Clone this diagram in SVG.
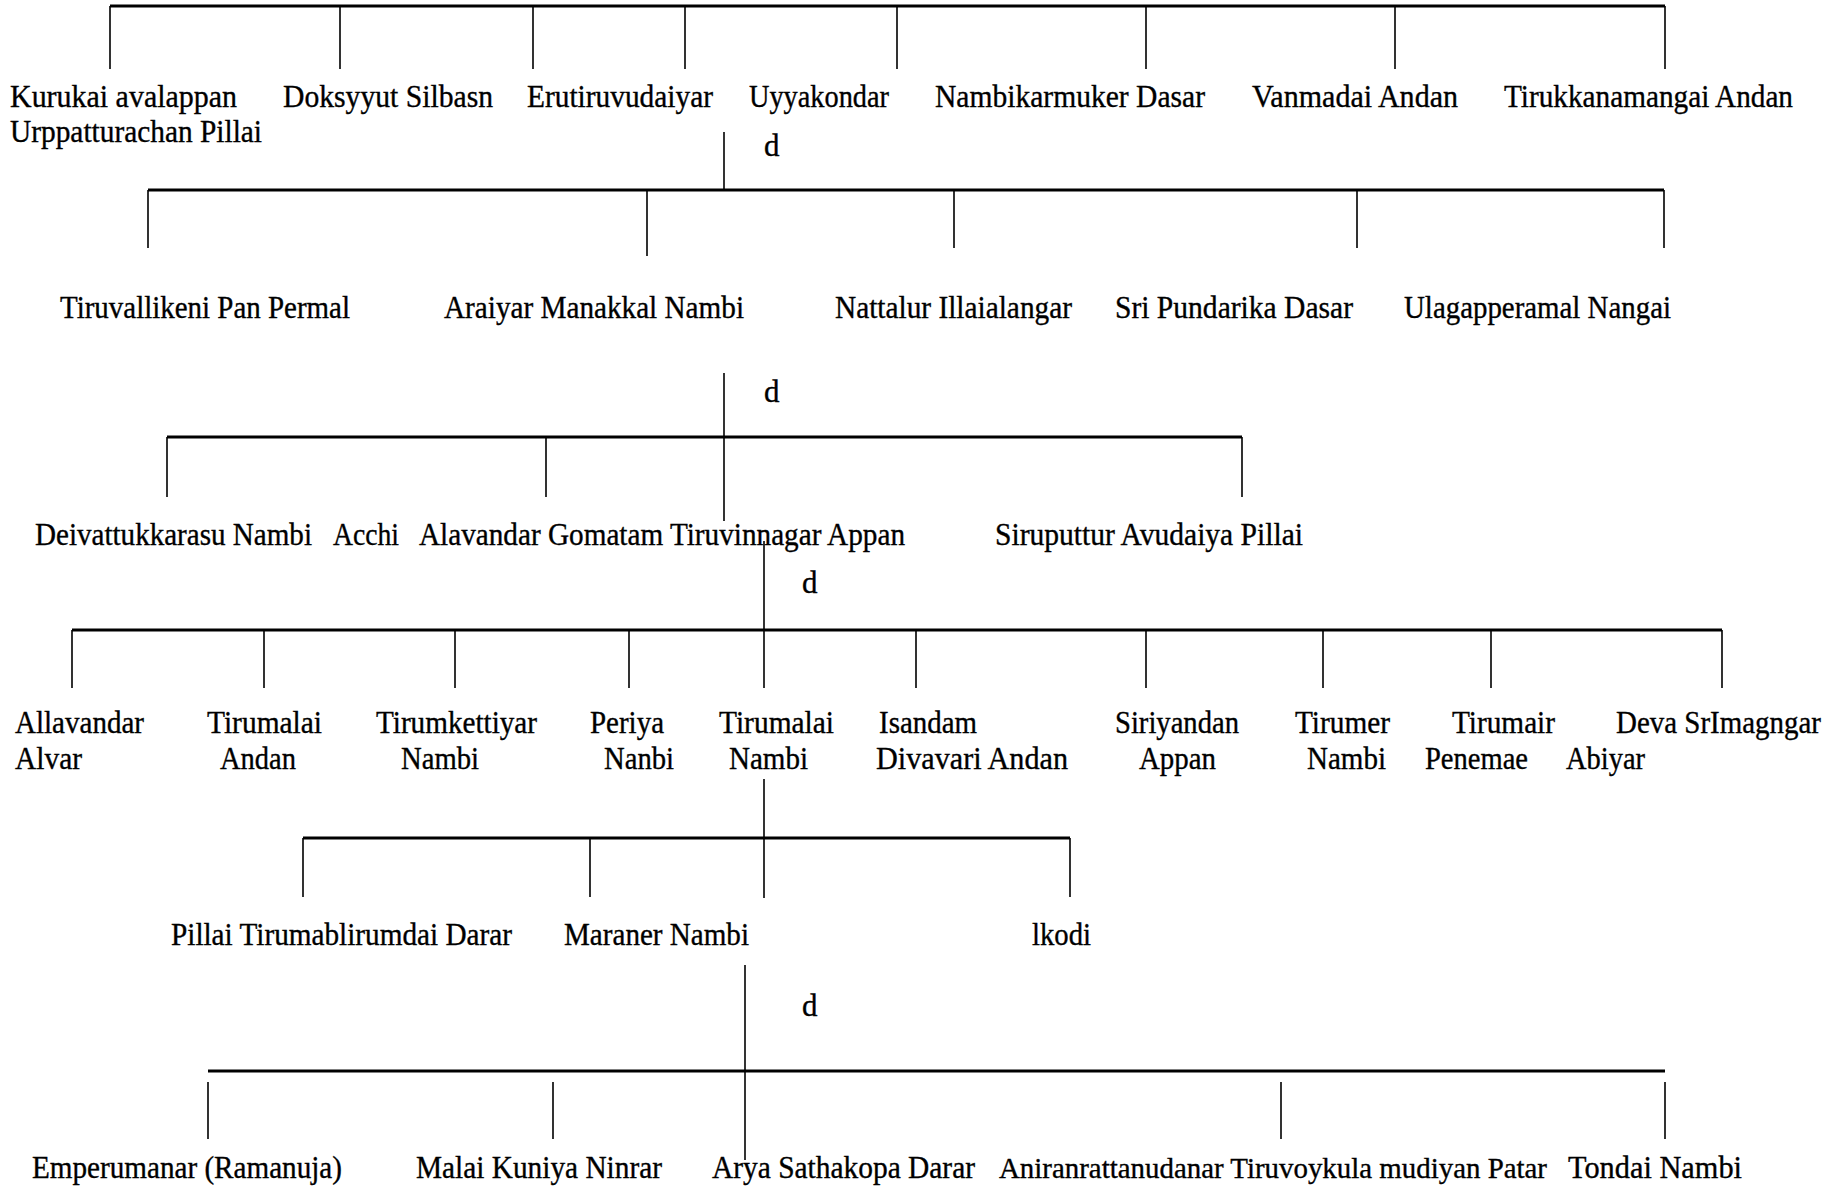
<svg xmlns="http://www.w3.org/2000/svg" width="1837" height="1187" viewBox="0 0 1837 1187">
<style>
.h{stroke:#000;stroke-width:3;fill:none}
.v{stroke:#000;stroke-width:1.6;fill:none}
text{font-family:"Liberation Serif","Times New Roman",serif;font-size:31px;fill:#000;stroke:#000;stroke-width:0.35}
text.sm{font-size:29px}
</style>
<rect width="1837" height="1187" fill="#fff"/>
<g id="connectors">
<line class="h" x1="110" y1="6" x2="1665" y2="6"/>
<path class="v" d="M110 6V69M340 6V69M533 6V69M685 6V69M897 6V69M1146 6V69M1395 6V69M1665 6V69"/>
<path class="v" d="M724 132V190"/>
<line class="h" x1="148" y1="190" x2="1664" y2="190"/>
<path class="v" d="M148 190V248M647 190V256M954 190V248M1357 190V248M1664 190V248"/>
<path class="v" d="M724 373V521"/>
<line class="h" x1="167" y1="437" x2="1242" y2="437"/>
<path class="v" d="M167 437V497M546 437V497M1242 437V497"/>
<path class="v" d="M764 541V688"/>
<line class="h" x1="72" y1="630" x2="1722" y2="630"/>
<path class="v" d="M72 630V688M264 630V688M455 630V688M629 630V688M916 630V688M1146 630V688M1323 630V688M1491 630V688M1722 630V688"/>
<path class="v" d="M764 779V898"/>
<line class="h" x1="303" y1="838" x2="1070" y2="838"/>
<path class="v" d="M303 838V897M590 838V897M1070 838V897"/>
<path class="v" d="M745 965V1160"/>
<line class="h" x1="208" y1="1071" x2="1665" y2="1071"/>
<path class="v" d="M208 1082V1139M553 1082V1139M1281 1082V1139M1665 1082V1139"/>
</g>
<g id="row1">
<g id="n-kurukai"><text x="10" y="107" textLength="227" lengthAdjust="spacingAndGlyphs">Kurukai avalappan</text><text x="10" y="142" textLength="252" lengthAdjust="spacingAndGlyphs">Urppatturachan Pillai</text></g>
<g id="n-doksyyut"><text x="283" y="107" textLength="210" lengthAdjust="spacingAndGlyphs">Doksyyut Silbasn</text></g>
<g id="n-erutiru"><text x="527" y="107" textLength="186" lengthAdjust="spacingAndGlyphs">Erutiruvudaiyar</text></g>
<g id="n-uyyakondar"><text x="749" y="107" textLength="140" lengthAdjust="spacingAndGlyphs">Uyyakondar</text></g>
<g id="n-nambikar"><text x="935" y="107" textLength="270" lengthAdjust="spacingAndGlyphs">Nambikarmuker Dasar</text></g>
<g id="n-vanmadai"><text x="1252" y="107" textLength="206" lengthAdjust="spacingAndGlyphs">Vanmadai Andan</text></g>
<g id="n-tirukkana"><text x="1504" y="107" textLength="289" lengthAdjust="spacingAndGlyphs">Tirukkanamangai Andan</text></g>
<text x="764" y="156">d</text>
</g>
<g id="row2">
<g id="n-tiruvallikeni"><text x="60" y="318" textLength="290" lengthAdjust="spacingAndGlyphs">Tiruvallikeni Pan Permal</text></g>
<g id="n-araiyar"><text x="444" y="318" textLength="300" lengthAdjust="spacingAndGlyphs">Araiyar Manakkal Nambi</text></g>
<g id="n-nattalur"><text x="835" y="318" textLength="237" lengthAdjust="spacingAndGlyphs">Nattalur Illaialangar</text></g>
<g id="n-sripundarika"><text x="1115" y="318" textLength="238" lengthAdjust="spacingAndGlyphs">Sri Pundarika Dasar</text></g>
<g id="n-ulagapperamal"><text x="1404" y="318" textLength="267" lengthAdjust="spacingAndGlyphs">Ulagapperamal Nangai</text></g>
<text x="764" y="402">d</text>
</g>
<g id="row3">
<g id="n-deivattu"><text x="35" y="545" textLength="277" lengthAdjust="spacingAndGlyphs">Deivattukkarasu Nambi</text></g>
<g id="n-acchi"><text x="333" y="545" textLength="66" lengthAdjust="spacingAndGlyphs">Acchi</text></g>
<g id="n-alavandar"><text x="419" y="545" textLength="486" lengthAdjust="spacingAndGlyphs">Alavandar Gomatam Tiruvinnagar Appan</text></g>
<g id="n-siruputtur"><text x="995" y="545" textLength="308" lengthAdjust="spacingAndGlyphs">Siruputtur Avudaiya Pillai</text></g>
<text x="802" y="593">d</text>
</g>
<g id="row4">
<g id="n-allavandar"><text x="15" y="733" textLength="129" lengthAdjust="spacingAndGlyphs">Allavandar</text><text x="15" y="769" textLength="67" lengthAdjust="spacingAndGlyphs">Alvar</text></g>
<g id="n-tirumalai-andan"><text x="207" y="733" textLength="115" lengthAdjust="spacingAndGlyphs">Tirumalai</text><text x="220" y="769" textLength="76" lengthAdjust="spacingAndGlyphs">Andan</text></g>
<g id="n-tirumkettiyar"><text x="376" y="733" textLength="161" lengthAdjust="spacingAndGlyphs">Tirumkettiyar</text><text x="401" y="769" textLength="78" lengthAdjust="spacingAndGlyphs">Nambi</text></g>
<g id="n-periya"><text x="590" y="733" textLength="74" lengthAdjust="spacingAndGlyphs">Periya</text><text x="604" y="769" textLength="70" lengthAdjust="spacingAndGlyphs">Nanbi</text></g>
<g id="n-tirumalai-nambi"><text x="719" y="733" textLength="115" lengthAdjust="spacingAndGlyphs">Tirumalai</text><text x="729" y="769" textLength="79" lengthAdjust="spacingAndGlyphs">Nambi</text></g>
<g id="n-isandam"><text x="879" y="733" textLength="98" lengthAdjust="spacingAndGlyphs">Isandam</text><text x="876" y="769" textLength="192" lengthAdjust="spacingAndGlyphs">Divavari  Andan</text></g>
<g id="n-siriyandan"><text x="1115" y="733" textLength="124" lengthAdjust="spacingAndGlyphs">Siriyandan</text><text x="1139" y="769" textLength="77" lengthAdjust="spacingAndGlyphs">Appan</text></g>
<g id="n-tirumer"><text x="1295" y="733" textLength="95" lengthAdjust="spacingAndGlyphs">Tirumer</text><text x="1307" y="769" textLength="79" lengthAdjust="spacingAndGlyphs">Nambi</text></g>
<g id="n-tirumair"><text x="1452" y="733" textLength="103" lengthAdjust="spacingAndGlyphs">Tirumair</text><text x="1425" y="769" textLength="103" lengthAdjust="spacingAndGlyphs">Penemae</text></g>
<g id="n-deva"><text x="1616" y="733" textLength="205" lengthAdjust="spacingAndGlyphs">Deva SrImagngar</text><text x="1566" y="769" textLength="79" lengthAdjust="spacingAndGlyphs">Abiyar</text></g>
</g>
<g id="row5">
<g id="n-pillai"><text x="171" y="945" textLength="341" lengthAdjust="spacingAndGlyphs">Pillai Tirumablirumdai Darar</text></g>
<g id="n-maraner"><text x="564" y="945" textLength="185" lengthAdjust="spacingAndGlyphs">Maraner Nambi</text></g>
<g id="n-lkodi"><text x="1032" y="945" textLength="59" lengthAdjust="spacingAndGlyphs">lkodi</text></g>
<text x="802" y="1016">d</text>
</g>
<g id="row6">
<g id="n-emperumanar"><text x="32" y="1178" textLength="310" lengthAdjust="spacingAndGlyphs">Emperumanar (Ramanuja)</text></g>
<g id="n-malai"><text x="416" y="1178" textLength="246" lengthAdjust="spacingAndGlyphs">Malai Kuniya Ninrar</text></g>
<g id="n-arya"><text x="712" y="1178" textLength="263" lengthAdjust="spacingAndGlyphs">Arya Sathakopa Darar</text></g>
<g id="n-aniran"><text class="sm" x="999" y="1178" textLength="548" lengthAdjust="spacingAndGlyphs">Aniranrattanudanar Tiruvoykula mudiyan Patar</text></g>
<g id="n-tondai"><text x="1568" y="1178" textLength="174" lengthAdjust="spacingAndGlyphs">Tondai Nambi</text></g>
</g>
</svg>
